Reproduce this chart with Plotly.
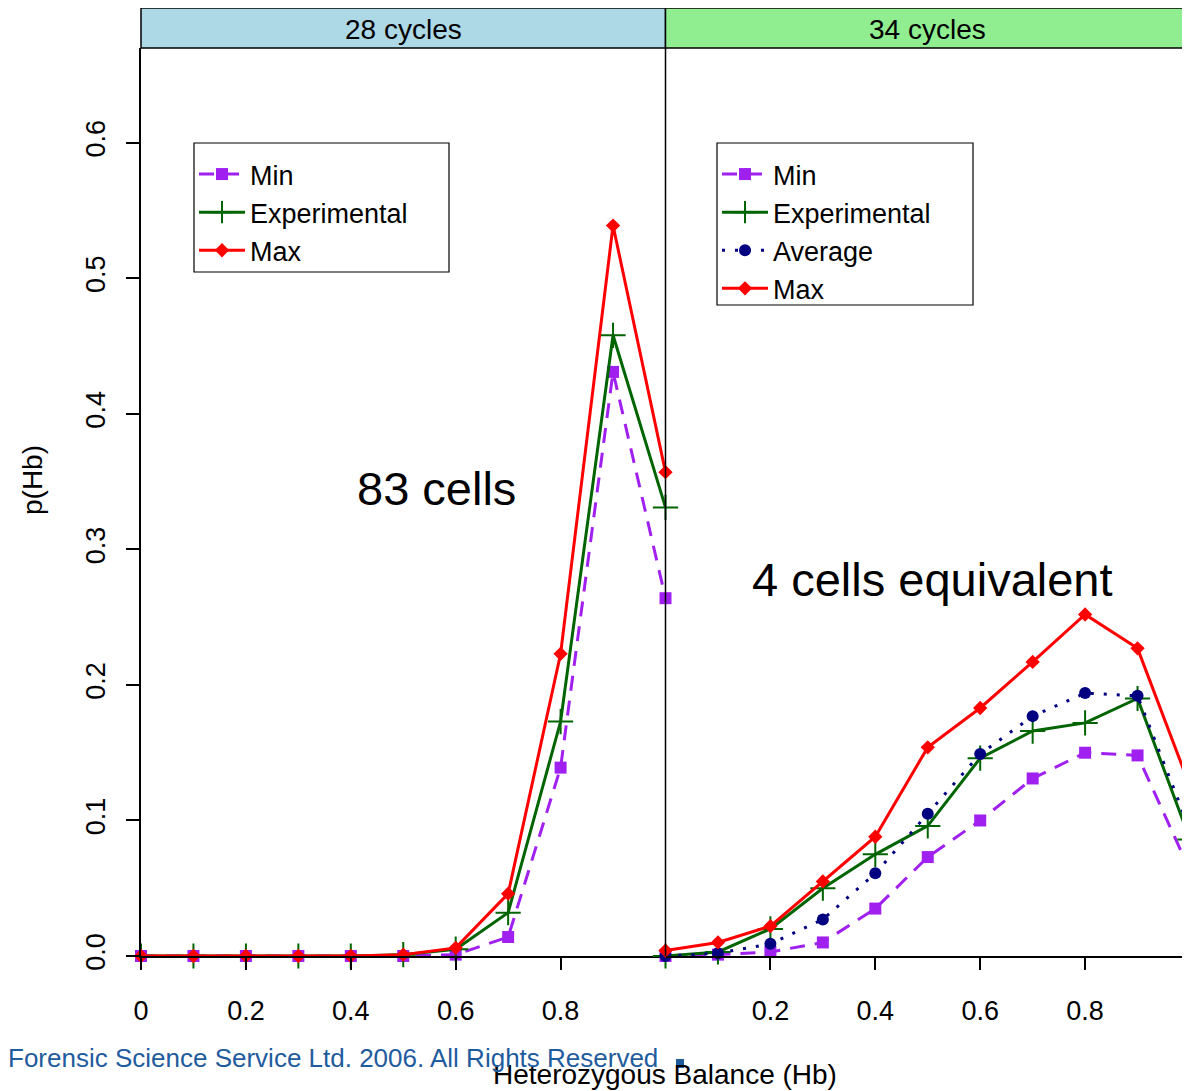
import plotly.graph_objects as go

# ---------------- data ----------------
x_vals = [0.0, 0.1, 0.2, 0.3, 0.4, 0.5, 0.6, 0.7, 0.8, 0.9, 1.0]

# 28 cycles panel
c28_min = [0.0, 0.0, 0.0, 0.0, 0.0, 0.0, 0.001, 0.014, 0.139, 0.431, 0.264]
c28_exp = [0.0, 0.0, 0.0, 0.0, 0.0, 0.001, 0.005, 0.032, 0.173, 0.458, 0.331]
c28_max = [0.0, 0.0, 0.0, 0.0, 0.0, 0.001, 0.006, 0.046, 0.223, 0.539, 0.357]

# 34 cycles panel
c34_min = [0.0, 0.001, 0.003, 0.010, 0.035, 0.073, 0.100, 0.131, 0.150, 0.148, 0.063]
c34_exp = [0.0, 0.003, 0.020, 0.050, 0.075, 0.096, 0.146, 0.166, 0.172, 0.190, 0.086]
c34_avg = [0.0, 0.002, 0.009, 0.027, 0.061, 0.105, 0.149, 0.177, 0.194, 0.192, 0.093]
c34_max = [0.004, 0.010, 0.022, 0.055, 0.088, 0.154, 0.183, 0.217, 0.252, 0.227, 0.125]

panel_titles = ["28 cycles", "34 cycles"]
panel_notes = ["83 cells", "4 cells equivalent"]
y_ticks = [0.0, 0.1, 0.2, 0.3, 0.4, 0.5, 0.6]
y_tick_text = ["0.0", "0.1", "0.2", "0.3", "0.4", "0.5", "0.6"]
x_ticks_left = [0.0, 0.2, 0.4, 0.6, 0.8]
x_tick_text_left = ["0", "0.2", "0.4", "0.6", "0.8"]
x_ticks_right = [0.2, 0.4, 0.6, 0.8, 1.0]
x_tick_text_right = ["0.2", "0.4", "0.6", "0.8", "1"]

FONT = "Liberation Sans, Arial, sans-serif"
PURPLE = "#A020F0"
GREEN = "#006400"
RED = "#FF0000"
NAVY = "#000080"
BLUE_TXT = "#1F5C9E"

styles = {
    "Min": dict(line=dict(color=PURPLE, width=3, dash="15px,10px"),
                marker=dict(symbol="square", size=12, color=PURPLE)),
    "Experimental": dict(line=dict(color=GREEN, width=3),
                         marker=dict(symbol="cross-thin", size=18,
                                     line=dict(color=GREEN, width=2), color=GREEN)),
    "Average": dict(line=dict(color=NAVY, width=3, dash="3px,10px"),
                    marker=dict(symbol="circle", size=12, color=NAVY)),
    "Max": dict(line=dict(color=RED, width=3),
                marker=dict(symbol="diamond", size=11, color=RED)),
}

fig = go.Figure()

left_series = [("Min", c28_min), ("Experimental", c28_exp), ("Max", c28_max)]
right_series = [("Min", c34_min), ("Experimental", c34_exp),
                ("Average", c34_avg), ("Max", c34_max)]

for name, vals in left_series:
    fig.add_trace(go.Scatter(x=x_vals, y=vals, name=name, mode="lines+markers",
                             xaxis="x", yaxis="y", legend="legend",
                             cliponaxis=False, **styles[name]))
for name, vals in right_series:
    fig.add_trace(go.Scatter(x=x_vals, y=vals, name=name, mode="lines+markers",
                             xaxis="x2", yaxis="y", legend="legend2",
                             cliponaxis=False, **styles[name]))

# page body has an 8px margin, so the figure is drawn 8px in from the corner
OFF = 8
W, H = 1190 - OFF, 1091 - OFF
L, R, T = 141 - OFF, 0, 48 - OFF
B = H - (956 - OFF)
plot_h = H - T - B
plot_w = W - L - R

def py(pix):  # reference pixel y -> paper y
    return (H - B - (pix - OFF)) / plot_h

def px(pix):  # reference pixel x -> paper x
    return ((pix - OFF) - L) / plot_w

axis_common = dict(range=[0, 1], showgrid=False, zeroline=False, showline=True,
                   linecolor="black", linewidth=1.5, ticks="outside", ticklen=12,
                   tickwidth=1.5, tickcolor="black",
                   tickfont=dict(family=FONT, size=27, color="black"),
                   ticklabelstandoff=18)

legend_common = dict(xanchor="left", yanchor="top", borderwidth=0,
                     bgcolor="rgba(0,0,0,0)",
                     font=dict(family=FONT, size=27, color="black"),
                     itemwidth=46, tracegroupgap=0)

fig.update_layout(
    width=W, height=H,
    margin=dict(l=L, r=R, t=T, b=B, autoexpand=False),
    plot_bgcolor="white", paper_bgcolor="white",
    font=dict(family=FONT, color="black"),
    xaxis=dict(domain=[0, 0.5], anchor="y", tickvals=x_ticks_left,
               ticktext=x_tick_text_left, **axis_common),
    xaxis2=dict(domain=[0.5, 1.0], anchor="y", tickvals=x_ticks_right,
                ticktext=x_tick_text_right, **axis_common),
    yaxis=dict(domain=[0, 1], anchor="x", range=[0, 0.67], tickvals=y_ticks,
               ticktext=y_tick_text, tickangle=-90, showgrid=False, zeroline=False,
               showline=True, linecolor="black", linewidth=1.5, ticks="outside",
               ticklen=13, tickwidth=1.5, tickcolor="black",
               tickfont=dict(family=FONT, size=27, color="black"),
               ticklabelstandoff=10),
    legend=dict(x=px(194), y=py(150), **legend_common),
    legend2=dict(x=px(717), y=py(150), **legend_common),
    showlegend=True,
)

# legend boxes
for (x0, x1, y0, y1) in [(194, 449, 143, 272), (717, 973, 143, 305)]:
    fig.add_shape(type="rect", xref="paper", yref="paper", x0=px(x0), x1=px(x1),
                  y0=py(y1), y1=py(y0), fillcolor="white",
                  line=dict(color="black", width=1.2), layer="below")

# strips
strip_colors = ["#ADD8E6", "#90EE90"]
strip_x = [(0.0, 0.5), (0.5, 1.003)]
for (x0, x1), col, title in zip(strip_x, strip_colors, panel_titles):
    fig.add_shape(type="rect", xref="paper", yref="paper", x0=x0, x1=x1,
                  y0=1.0, y1=py(8), fillcolor=col, line=dict(color="black", width=1.5),
                  layer="below")
    fig.add_annotation(xref="paper", yref="paper", x=(x0 + min(x1, 1.0)) / 2,
                       y=py(29), text=title, showarrow=False,
                       font=dict(family=FONT, size=28, color="black"),
                       xanchor="center", yanchor="middle")

# panel divider
fig.add_shape(type="line", xref="paper", yref="paper", x0=0.5, x1=0.5, y0=0, y1=1,
              line=dict(color="black", width=1.5))

# panel notes
fig.add_annotation(xref="x", yref="y", x=0.563, y=0.345, text=panel_notes[0],
                   showarrow=False, xanchor="center", yanchor="middle",
                   font=dict(family=FONT, size=47, color="black"))
fig.add_annotation(xref="x2", yref="y", x=0.509, y=0.2775, text=panel_notes[1],
                   showarrow=False, xanchor="center", yanchor="middle",
                   font=dict(family=FONT, size=47, color="black"))

# axis titles
fig.add_annotation(xref="paper", yref="paper", x=px(32), y=py(480), text="p(Hb)",
                   textangle=-90, showarrow=False, xanchor="center", yanchor="middle",
                   font=dict(family=FONT, size=28, color="black"))
fig.add_annotation(xref="paper", yref="paper", x=px(665), y=py(1074),
                   text="Heterozygous Balance (Hb)", showarrow=False,
                   xanchor="center", yanchor="middle",
                   font=dict(family=FONT, size=28, color="black"))

# copyright
fig.add_annotation(xref="paper", yref="paper", x=px(6), y=py(1058),
                   text="Forensic Science Service Ltd. 2006. All Rights Reserved",
                   xanchor="left", yanchor="middle", showarrow=False,
                   font=dict(family=FONT, size=26, color=BLUE_TXT))
fig.add_shape(type="rect", xref="paper", yref="paper", x0=px(676), x1=px(684),
              y0=py(1068), y1=py(1059), fillcolor=BLUE_TXT, line=dict(width=0))

fig.write_html("out.html")
